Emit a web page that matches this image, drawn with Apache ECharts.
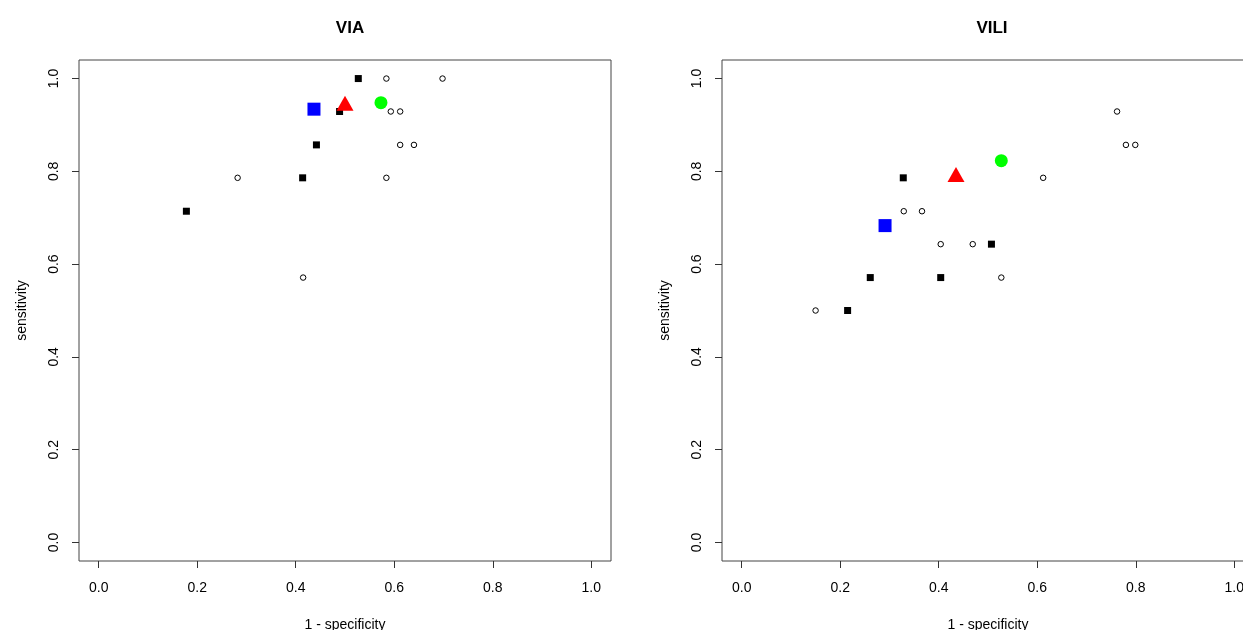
<!DOCTYPE html>
<html>
<head>
<meta charset="utf-8">
<script src="https://cdn.jsdelivr.net/npm/echarts@6/dist/echarts.min.js"></script>
<style>
html,body{margin:0;padding:0;background:#fff;}
#chart{width:1243px;height:630px;}
</style>
</head>
<body>
<div id="chart"></div>
<script>
// ---- data ----
var panelTitles = ['VIA', 'VILI'];
var tickValues = [0, 0.2, 0.4, 0.6, 0.8, 1.0];

// VIA panel
var viaFilledSquares = [[0.527,1.0],[0.489,0.929],[0.442,0.857],[0.414,0.786],[0.178,0.714]];
var viaOpenCircles = [[0.584,1.0],[0.698,1.0],[0.593,0.929],[0.612,0.929],[0.612,0.857],[0.640,0.857],
                      [0.282,0.786],[0.584,0.786],[0.415,0.571]];
var viaBlueSquare = [[0.437,0.934]];
var viaRedTriangle = [[0.500,0.947]];
var viaGreenCircle = [[0.573,0.948]];

// VILI panel
var viliFilledSquares = [[0.328,0.786],[0.507,0.643],[0.261,0.571],[0.404,0.571],[0.215,0.5]];
var viliOpenCircles = [[0.762,0.929],[0.780,0.857],[0.799,0.857],[0.612,0.786],[0.329,0.714],[0.366,0.714],
                       [0.404,0.643],[0.469,0.643],[0.527,0.571],[0.150,0.5]];
var viliBlueSquare = [[0.291,0.683]];
var viliRedTriangle = [[0.435,0.793]];
var viliGreenCircle = [[0.527,0.823]];

var xName = '1 - specificity';
var yName = 'sensitivity';

// ---- chart ----
var font = 'Liberation Sans, Arial, sans-serif';
function xAx(gi){
  return {
    gridIndex: gi, type: 'value', min: -0.04, max: 1.04, position: 'bottom',
    name: xName, nameLocation: 'middle', nameGap: 57,
    nameTextStyle: {fontFamily: font, fontSize: 14, color: '#000'},
    axisLine: {show: false, onZero: false},
    splitLine: {show: false},
    axisTick: {show: true, customValues: tickValues, length: 7, inside: false, lineStyle: {color: '#333', width: 1}},
    axisLabel: {show: true, customValues: tickValues, margin: 20, fontFamily: font, fontSize: 14, color: '#000',
      formatter: function(v){ return v.toFixed(1); }}
  };
}
function yAx(gi){
  return {
    gridIndex: gi, type: 'value', min: -0.04, max: 1.04, position: 'left',
    name: yName, nameLocation: 'middle', nameGap: 50,
    nameTextStyle: {fontFamily: font, fontSize: 14, color: '#000'},
    axisLine: {show: false, onZero: false},
    splitLine: {show: false},
    axisTick: {show: true, customValues: tickValues, length: 7, inside: false, lineStyle: {color: '#333', width: 1}},
    axisLabel: {show: true, customValues: tickValues, margin: 18, rotate: 90, fontFamily: font, fontSize: 14, color: '#000',
      formatter: function(v){ return v.toFixed(1); }}
  };
}
function panelSeries(gi, sq, oc, blue, red, green){
  return [
    {type:'scatter', xAxisIndex:gi, yAxisIndex:gi, data:sq, symbol:'rect', symbolSize:7,
     itemStyle:{color:'#000', opacity:1}, silent:true},
    {type:'scatter', xAxisIndex:gi, yAxisIndex:gi, data:oc, symbol:'circle', symbolSize:5.5,
     itemStyle:{color:'#fff', borderColor:'#000', borderWidth:1, opacity:1}, silent:true},
    {type:'scatter', xAxisIndex:gi, yAxisIndex:gi, data:blue, symbol:'rect', symbolSize:13,
     itemStyle:{color:'#0000ff', opacity:1}, silent:true},
    {type:'scatter', xAxisIndex:gi, yAxisIndex:gi, data:red, symbol:'triangle', symbolSize:[17,15],
     itemStyle:{color:'#ff0000', opacity:1}, silent:true},
    {type:'scatter', xAxisIndex:gi, yAxisIndex:gi, data:green, symbol:'circle', symbolSize:13,
     itemStyle:{color:'#00ff00', opacity:1}, silent:true}
  ];
}

var chart = echarts.init(document.getElementById('chart'), null, {renderer:'canvas'});
chart.setOption({
  animation: false,
  backgroundColor: '#fff',
  title: [
    {text: panelTitles[0], left: 345, top: 15, textAlign: 'center',
     textStyle: {fontFamily: font, fontSize: 17, fontWeight: 'bold', color: '#000'}},
    {text: panelTitles[1], left: 987, top: 15, textAlign: 'center',
     textStyle: {fontFamily: font, fontSize: 17, fontWeight: 'bold', color: '#000'}}
  ],
  grid: [
    {left: 79, top: 60, width: 532, height: 501, show: true, borderColor: '#444', borderWidth: 1,
     backgroundColor: 'transparent', containLabel: false, outerBoundsMode: 'none'},
    {left: 722, top: 60, width: 532, height: 501, show: true, borderColor: '#444', borderWidth: 1,
     backgroundColor: 'transparent', containLabel: false, outerBoundsMode: 'none'}
  ],
  xAxis: [xAx(0), xAx(1)],
  yAxis: [yAx(0), yAx(1)],
  series: [].concat(
    panelSeries(0, viaFilledSquares, viaOpenCircles, viaBlueSquare, viaRedTriangle, viaGreenCircle),
    panelSeries(1, viliFilledSquares, viliOpenCircles, viliBlueSquare, viliRedTriangle, viliGreenCircle)
  )
});
</script>
</body>
</html>
